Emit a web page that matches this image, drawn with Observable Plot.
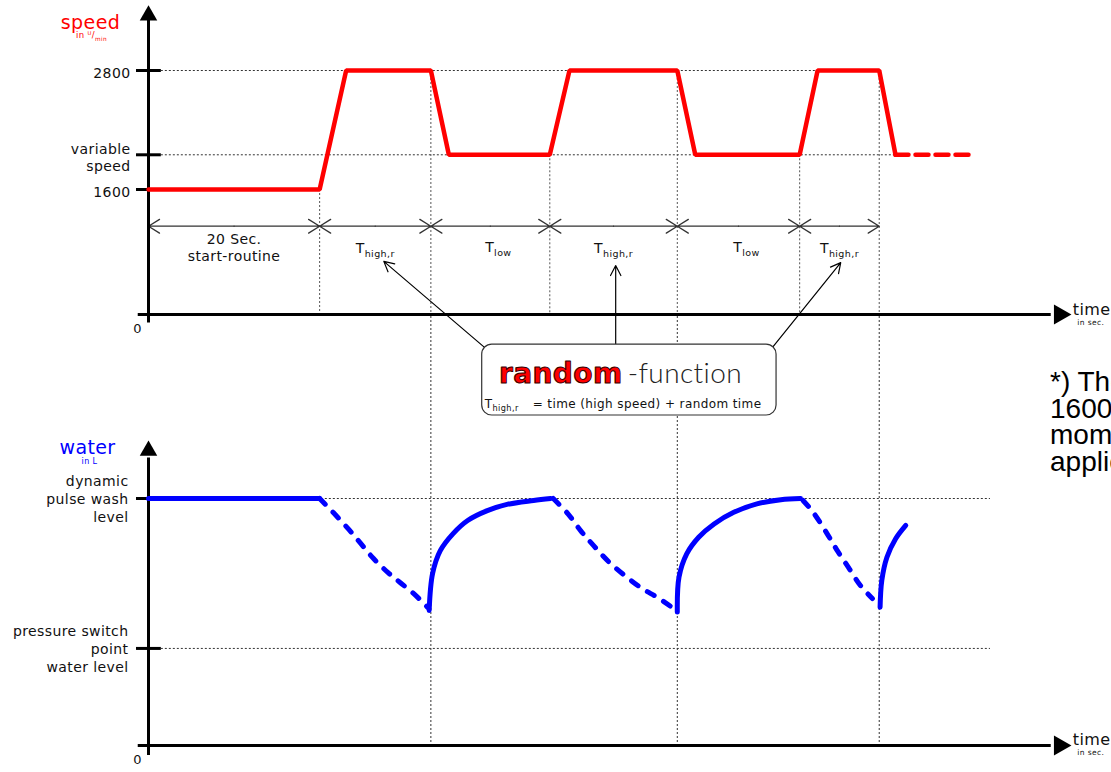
<!DOCTYPE html>
<html><head><meta charset="utf-8">
<script src="https://cdn.jsdelivr.net/npm/d3@7"></script>
<script src="https://cdn.jsdelivr.net/npm/@observablehq/plot@0.6"></script>
<style>
html,body{margin:0;padding:0;background:#fff;overflow:hidden;}
#wrap{position:relative;width:1111px;height:772px;overflow:hidden;background:#fff;}
#wrap svg{position:absolute;left:0;top:0;}
#wrap svg text{letter-spacing:0.4px;}
#note{position:absolute;left:1050px;top:369px;font:28px "Liberation Sans",Arial,sans-serif;line-height:26.5px;color:#000;white-space:nowrap;}
</style></head><body><div id="wrap"><div id="note">*) The<br>1600 U/min<br>moment<br>applied</div></div><script>
// ---------- data ----------
const timeDomain = [0, 106];                         // seconds (schematic)
// speed (U/min)
const speedTicks = [1600, 1950, 2800];
const speedTickLabels = ["1600", "variable\nspeed", "2800"];
const speedTime  = [0, 20, 23.1, 33, 35.1, 46.9, 49.2, 61.8, 63.9, 76.1, 78.2, 85.4, 87.3];
const speedValue = [1600, 1600, 2800, 2800, 1950, 1950, 2800, 2800, 1950, 1950, 2800, 2800, 1950];
const speedTailTime  = [87.3, 96.0];
const speedTailValue = [1950, 1950];
// phases
const phaseStart  = [0, 20, 33, 46.9, 61.8, 76.1];
const phaseEnd    = [20, 33, 46.9, 61.8, 76.1, 85.4];
const phaseLabels = ["20 Sec.\nstart-routine", "T_{high,r}", "T_{low}", "T_{high,r}", "T_{low}", "T_{high,r}"];
// guide lines at phase boundaries
const guideTime  = [20, 33, 46.9, 61.8, 76.1, 85.4];
const guideSpeed = [1600, 2800, 1950, 2800, 1950, 2800];
const fullGuideTime = [33, 61.8, 85.4];
// water level
const waterTicks = [39.3, 100];
const waterTickLabels = ["pressure switch\npoint\nwater level", "dynamic\npulse wash\nlevel"];
const holdT = [0, 20],  holdW = [100, 100];
const drain1T  = [20, 21.6, 23.3, 24.8, 26.3, 28.0, 29.4, 31.0, 32.6];
const drain1W  = [100, 94.3, 87.9, 81.8, 75.7, 70.0, 66.0, 61.5, 56.0];
const refill1T = [32.8, 33.2, 34.1, 35.6, 37.3, 39.6, 41.9, 45.0, 47.0];
const refill1W = [54.7, 69.6, 78.9, 85.8, 91.1, 95.1, 97.6, 99.2, 100];
const drain2T  = [47.3, 49.0, 50.5, 52.0, 54.0, 57.5, 59.5, 61.2];
const drain2W  = [100, 93.9, 87.0, 81.0, 73.7, 64.0, 59.9, 55.9];
const refill2T = [61.8, 62.0, 62.9, 64.3, 66.1, 68.4, 71.1, 73.9, 76.2];
const refill2W = [54.0, 68.2, 77.6, 84.3, 89.7, 94.4, 97.8, 99.5, 100];
const drain3T  = [76.5, 77.7, 79.3, 80.5, 81.8, 83.2, 84.6];
const drain3W  = [99.2, 94.3, 85.8, 78.9, 72.1, 64.8, 59.5];
const refill3T = [85.5, 85.7, 86.3, 87.3, 88.5];
const refill3W = [56.0, 66.8, 76.2, 83.6, 89.1];
// callout ("random-function")
const calloutFromT = [39.3, 54.6, 72.9], calloutFromW = [161.1, 162.3, 161.1];
const calloutToT   = [27.5, 54.6, 80.9], calloutToW   = [196.0, 194.3, 195.5];

// ---------- derived tables ----------
const speedRows = speedTime.map((t, i) => ({t, v: speedValue[i]}));
const speedTail = speedTailTime.map((t, i) => ({t, v: speedTailValue[i]}));
const phases = phaseStart.map((s, i) => ({start: s, end: phaseEnd[i], mid: (s + phaseEnd[i]) / 2, label: phaseLabels[i]}));
const guides = guideTime.map((t, i) => ({t, v: guideSpeed[i]}));
const seg = (name, T, Wv, dashed) => T.map((t, i) => ({seg: name, t, w: Wv[i], dashed}));
const waterRows = [
  ...seg("hold", holdT, holdW, false),
  ...seg("d1", drain1T, drain1W, true), ...seg("r1", refill1T, refill1W, false),
  ...seg("d2", drain2T, drain2W, true), ...seg("r2", refill2T, refill2W, false),
  ...seg("d3", drain3T, drain3W, true), ...seg("r3", refill3T, refill3W, false)
];
const callouts = calloutFromT.map((t, i) => ({t1: t, w1: calloutFromW[i], t2: calloutToT[i], w2: calloutToW[i]}));

// ---------- layout constants ----------
const W = 1111, H = 772, mL = 148, mR = 56;
const dimLevel = 1130;       // speed-height of the phase dimension row
const speedArrow = 3355, waterArrow = 119.4;
const chartStyle = {background: "transparent", fontFamily: "'DejaVu Sans', sans-serif", fontSize: "14px", color: "#111", overflow: "visible"};
const dotted = {stroke: "#333", strokeWidth: 1, strokeDasharray: "2,2"};
const RED = "#ff0000", BLUE = "#0000ff";

const topPlot = Plot.plot({
  width: W, height: H, marginLeft: mL, marginRight: mR, marginTop: 0, marginBottom: 0,
  x: {type: "linear", domain: timeDomain, axis: null},
  y: {type: "linear", domain: [0, 1600, 2800], range: [314, 189, 70], axis: null},
  style: chartStyle,
  marks: [
    Plot.ruleY([2800], {x1: 1.5, x2: 85.4, ...dotted}),
    Plot.ruleY([1950], {x1: 1.5, x2: 87.3, ...dotted}),
    Plot.ruleX(guides, {x: "t", y1: "v", y2: 0, ...dotted, stroke: "#555"}),
    Plot.arrow(phases, {x1: "mid", x2: "start", y1: dimLevel, y2: dimLevel, stroke: "#333", strokeWidth: 1.3, headLength: 15, headAngle: 64}),
    Plot.arrow(phases, {x1: "mid", x2: "end", y1: dimLevel, y2: dimLevel, stroke: "#333", strokeWidth: 1.3, headLength: 15, headAngle: 64}),
    Plot.text(phases.filter(d => !d.label.includes("low")), {x: "mid", y: dimLevel, text: "label", dy: 21, lineHeight: 1.2, fontSize: 14, fill: "#111"}),
    Plot.text(phases.filter(d => d.label.includes("low")), {x: "mid", y: dimLevel, text: "label", dy: 21, dx: 8, fontSize: 14, fill: "#111"}),
    // axes
    Plot.ruleX([0], {x: 0, y1: -110, y2: speedArrow - 50, stroke: "#000", strokeWidth: 3}),
    Plot.ruleY([0], {y: 0, x1: -1.2, x2: 105.5, stroke: "#000", strokeWidth: 3}),
    Plot.dot([0], {x: 0, y: speedArrow, symbol: "triangle", r: 6.5, fill: "#000", stroke: null}),
    Plot.dot([0], {x: 106.5, y: 0, symbol: "triangle", r: 7.5, rotate: 90, fill: "#000", stroke: null}),
    Plot.ruleY(speedTicks, {x1: -1.4, x2: 1.5, stroke: "#000", strokeWidth: 3}),
    Plot.text(speedTicks, {x: 0, y: d => d, text: (d, i) => speedTickLabels[i], dx: -18, dy: 2, textAnchor: "end", lineHeight: 1.28, fontSize: 14, fill: "#111"}),
    Plot.text(["0"], {x: 0, y: 0, text: d => d, dx: -11, dy: 14, fontSize: 13}),
    // speed curve
    Plot.line(speedRows, {x: "t", y: "v", stroke: RED, strokeWidth: 4.5, strokeLinejoin: "miter"}),
    Plot.line(speedTail, {x: "t", y: "v", stroke: RED, strokeWidth: 4.5, strokeDasharray: "13,7"}),
    // titles
    Plot.text(["speed"], {x: 0, y: speedArrow, text: d => d, dx: -58, dy: 7, fontSize: 19, fill: RED}),
    Plot.text(["in ^{U}/_{min}"], {x: 0, y: speedArrow, text: d => d, dx: -57, dy: 20, fontSize: 8.5, fill: RED}),
    Plot.text(["time"], {x: 106.5, y: 0, text: d => d, dx: 13, dy: -5, textAnchor: "start", fontSize: 16, fill: "#111"}),
    Plot.text(["in sec."], {x: 106.5, y: 0, text: d => d, dx: 31, dy: 8, fontSize: 7.5, fill: "#111"})
  ]
});

const bottomPlot = Plot.plot({
  width: W, height: H, marginLeft: mL, marginRight: mR, marginTop: 316, marginBottom: 27,
  x: {type: "linear", domain: timeDomain, axis: null},
  y: {type: "linear", domain: [0, 100], range: [745, 498], axis: null},
  style: chartStyle,
  marks: [
    Plot.ruleY(waterTicks, {x1: 1.5, x2: 98.4, ...dotted}),
    Plot.ruleX(fullGuideTime, {...dotted}),
    // axes
    Plot.ruleX([0], {x: 0, y1: -4, y2: waterArrow - 3, stroke: "#000", strokeWidth: 3}),
    Plot.ruleY([0], {y: 0, x1: -1.2, x2: 105.5, stroke: "#000", strokeWidth: 3}),
    Plot.dot([0], {x: 0, y: waterArrow, symbol: "triangle", r: 6.5, fill: "#000", stroke: null}),
    Plot.dot([0], {x: 106.5, y: 0, symbol: "triangle", r: 7.5, rotate: 90, fill: "#000", stroke: null}),
    Plot.ruleY(waterTicks, {x1: -1.4, x2: 1.5, stroke: "#000", strokeWidth: 3}),
    Plot.text(waterTicks, {x: 0, y: d => d, text: (d, i) => waterTickLabels[i], dx: -20, dy: 0, textAnchor: "end", lineHeight: 1.28, fontSize: 14, fill: "#111"}),
    Plot.text(["0"], {x: 0, y: 0, text: d => d, dx: -11, dy: 14, fontSize: 13}),
    // water curve
    Plot.line(waterRows.filter(d => !d.dashed), {x: "t", y: "w", z: "seg", stroke: BLUE, strokeWidth: 5, curve: "catmull-rom", strokeLinecap: "round"}),
    Plot.line(waterRows.filter(d => d.dashed), {x: "t", y: "w", z: "seg", stroke: BLUE, strokeWidth: 5, curve: "catmull-rom", strokeLinecap: "round", strokeDasharray: "8,11"}),
    // titles
    Plot.text(["water"], {x: 0, y: waterArrow, text: d => d, dx: -61, dy: -3, fontSize: 19, fill: BLUE}),
    Plot.text(["in L"], {x: 0, y: waterArrow, text: d => d, dx: -59, dy: 11, fontSize: 8, fill: BLUE}),
    Plot.text(["time"], {x: 106.5, y: 0, text: d => d, dx: 13, dy: -6, textAnchor: "start", fontSize: 16, fill: "#111"}),
    Plot.text(["in sec."], {x: 106.5, y: 0, text: d => d, dx: 31, dy: 7, fontSize: 7.5, fill: "#111"}),
    // callout
    Plot.arrow(callouts, {x1: "t1", y1: "w1", x2: "t2", y2: "w2", stroke: "#000", strokeWidth: 1.2, headLength: 14, headAngle: 55}),
    Plot.rect([0], {x1: 39.0, x2: 73.4, y1: 133.6, y2: 162.3, fill: "#fff", stroke: "#333", strokeWidth: 1.2, rx: 10}),
    Plot.text(["random"], {x: 55.4, y: 150.5, text: d => d, textAnchor: "end", fontSize: 28, fontWeight: "bold", fontFamily: "'DejaVu Sans'", fill: RED, stroke: "#300", strokeWidth: 1, paintOrder: "fill"}),
    Plot.text(["-function"], {x: 56.0, y: 150.5, text: d => d, textAnchor: "start", fontSize: 28, fontWeight: 300, fontFamily: "Lato, 'Open Sans', sans-serif", fill: "#222"}),
    Plot.text(["T_{high,r}"], {x: 39.3, y: 138.3, text: d => d, textAnchor: "start", fontSize: 12, fill: "#111"}),
    Plot.text(["= time (high speed) + random time"], {x: 44.9, y: 138.3, text: d => d, textAnchor: "start", fontSize: 12, fill: "#111"})
  ]
});

function richify(svg) {
  svg.querySelectorAll("text").forEach(el => {
    if (el.querySelector("tspan")) return;
    const s = el.textContent;
    if (!/[_^]\{/.test(s)) return;
    const g = el.closest("[font-size]");
    const fs = g ? parseFloat(g.getAttribute("font-size")) : 14;
    el.textContent = "";
    const re = /([_^])\{([^}]*)\}/g;
    let last = 0, shift = 0, m;
    const add = (txt, kind) => {
      if (!txt) return;
      const ts = document.createElementNS("http://www.w3.org/2000/svg", "tspan");
      let target = 0;
      if (kind === "_") { target = 0.3 * fs; ts.setAttribute("font-size", 0.68 * fs); }
      else if (kind === "^") { target = -0.38 * fs; ts.setAttribute("font-size", 0.62 * fs); }
      ts.setAttribute("dy", target - shift);
      shift = target;
      ts.textContent = txt;
      el.appendChild(ts);
    };
    while ((m = re.exec(s))) { add(s.slice(last, m.index), ""); add(m[2], m[1]); last = re.lastIndex; }
    add(s.slice(last), "");
  });
}
richify(topPlot); richify(bottomPlot);
const wrap = document.getElementById("wrap");
wrap.insertBefore(bottomPlot, wrap.firstChild);
wrap.insertBefore(topPlot, wrap.firstChild);
</script></body></html>
